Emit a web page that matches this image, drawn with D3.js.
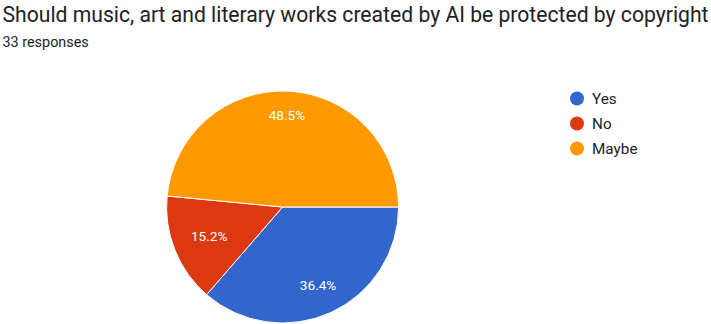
<!DOCTYPE html>
<html>
<head>
<meta charset="utf-8">
<script src="https://cdn.jsdelivr.net/npm/d3@7"></script>
<style>
  html, body { margin: 0; padding: 0; background: #fff; }
  svg { display: block; }
</style>
</head>
<body>
<svg id="chart" width="711" height="324"></svg>
<script>
// Survey answers
const categories = ["Yes", "No", "Maybe"];
const counts = [12, 5, 16];
const colors = ["#3366cc", "#dc3912", "#ff9900"];
const title = "Should music, art and literary works created by AI be protected by copyright";
const subtitle = "33 responses";

const svg = d3.select("#chart");

// Heading
svg.append("text")
  .attr("x", 2.5).attr("y", 22)
  .attr("font-family", "Roboto, 'Noto Sans', sans-serif")
  .attr("font-size", 21.15)
  .attr("fill", "#202124")
  .text(title);

svg.append("text")
  .attr("x", 2.5).attr("y", 46.5)
  .attr("font-family", "Roboto, 'Noto Sans', sans-serif")
  .attr("font-size", 14.4)
  .attr("fill", "#202124")
  .text(subtitle);

// Pie, starting at 3 o'clock and running clockwise
const cx = 282.6, cy = 207, r = 116;
const total = d3.sum(counts);
const data = categories.map((c, i) => ({ cat: c, value: counts[i], color: colors[i] }));

const pie = d3.pie()
  .sort(null)
  .value(d => d.value)
  .startAngle(Math.PI / 2)
  .endAngle(Math.PI / 2 + 2 * Math.PI);

const arc = d3.arc().innerRadius(0).outerRadius(r);

const g = svg.append("g").attr("transform", `translate(${cx},${cy})`);
const arcs = pie(data);

g.selectAll("path.slice")
  .data(arcs)
  .join("path")
  .attr("class", "slice")
  .attr("d", arc)
  .attr("fill", d => d.data.color)
  .attr("stroke", "#ffffff")
  .attr("stroke-width", 1);

const fmt = v => (v / total * 100).toFixed(1) + "%";

// Percentage labels: the text box is pulled inward so its outer edge
// sits on a fixed radius inside the slice.
const labelR = r * 0.845;
const labelH = 11;
g.selectAll("text.pct")
  .data(arcs)
  .join("text")
  .attr("class", "pct")
  .attr("text-anchor", "middle")
  .attr("dy", "0.36em")
  .attr("font-family", "Roboto, Arial, sans-serif")
  .attr("font-size", 13.6)
  .attr("fill", "#ffffff")
  .text(d => fmt(d.data.value))
  .attr("transform", function(d) {
    const a = (d.startAngle + d.endAngle) / 2;
    const ux = Math.sin(a), uy = -Math.cos(a);
    const w = this.getComputedTextLength();
    const proj = Math.abs(ux) * w / 2 + Math.abs(uy) * labelH / 2;
    const rr = labelR - proj;
    return `translate(${ux * rr},${uy * rr})`;
  });

// Legend
const legend = svg.append("g").attr("transform", "translate(577,98.5)");
const item = legend.selectAll("g.item")
  .data(data)
  .join("g")
  .attr("class", "item")
  .attr("transform", (d, i) => `translate(0,${i * 25})`);

item.append("circle")
  .attr("r", 7)
  .attr("fill", d => d.color);

item.append("text")
  .attr("x", 15)
  .attr("dy", "0.36em")
  .attr("font-family", "Roboto, Arial, sans-serif")
  .attr("font-size", 15.3)
  .attr("fill", "#222222")
  .text(d => d.cat);
</script>
</body>
</html>
